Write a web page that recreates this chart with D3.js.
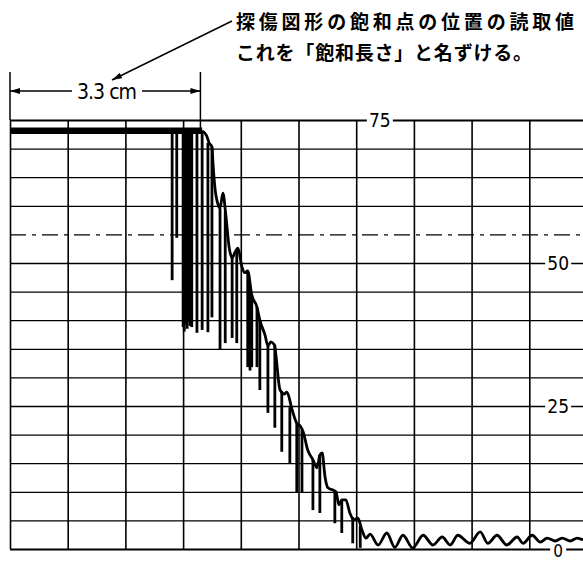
<!DOCTYPE html>
<html>
<head>
<meta charset="utf-8">
<script src="https://cdn.jsdelivr.net/npm/d3@7"></script>
<style>
  body { margin: 0; background: #fff; }
  svg { display: block; }
</style>
</head>
<body>
<div id="chart"></div>
<script>
// x in cm along the sweep, y in % of screen height
const xGrid = [0, 1, 2, 3, 4, 5, 6, 7, 8, 9, 10];
const yGrid = [0, 5, 10, 15, 20, 25, 30, 35, 40, 45, 50, 55, 60, 65, 70, 75];
const yLabels = [75, 50, 25, 0];

// saturated echo (flat top)
const satX = [0, 3.33];
const satY = [73.1, 73.1];

// falling trace after saturation, then baseline noise
const traceX = [3.33, 3.41, 3.45, 3.50, 3.52, 3.55, 3.61, 3.64, 3.69, 3.74, 3.80, 3.85, 3.90, 3.95,
  4.02, 4.07, 4.12, 4.19, 4.28, 4.33, 4.42, 4.47, 4.52, 4.58, 4.68, 4.75, 4.80, 4.89, 4.97, 5.03,
  5.08, 5.16, 5.25, 5.32, 5.37, 5.41, 5.46, 5.51, 5.60, 5.65, 5.70, 5.75, 5.82, 5.89, 5.96, 6.03,
  6.10, 6.17, 6.24, 6.38, 6.53, 6.67, 6.81, 6.98, 7.16, 7.33, 7.49, 7.63, 7.76, 7.97, 8.15, 8.28,
  8.44, 8.61, 8.79, 8.89, 9.05, 9.19, 9.31, 9.45, 9.57, 9.71, 9.83, 9.93];
const traceY = [73.1, 72.2, 71.0, 70.3, 67.1, 63.3, 60.1, 59.6, 62.2, 58.4, 52.6, 50.9, 51.9, 52.6,
  49.3, 48.3, 48.6, 44.4, 42.3, 40.0, 37.4, 35.5, 36.2, 35.7, 27.8, 27.1, 27.4, 24.3, 22.0, 21.5,
  20.5, 17.3, 15.6, 14.2, 16.4, 16.8, 12.6, 10.7, 10.3, 10.0, 7.7, 8.6, 8.6, 6.3, 5.1, 5.4,
  3.3, 1.9, 2.6, 0.7, 2.8, 0.3, 2.4, 0.2, 2.4, 0.7, 2.1, 0.7, 2.4, 1.0, 3.0, 1.0,
  2.4, 0.7, 2.1, 1.0, 2.4, 1.2, 1.9, 1.4, 1.9, 1.4, 1.9, 1.6];

// vertical flicker spikes hanging from the trace
const spikeX = [2.81, 2.89, 3.00, 3.02, 3.05, 3.07, 3.10, 3.12, 3.15, 3.24, 3.33, 3.43, 3.50,
  3.64, 3.73, 3.85, 3.93, 4.12, 4.16, 4.19, 4.28, 4.33, 4.47, 4.59, 4.71, 4.85, 4.97, 5.06,
  5.25, 5.37, 5.63, 5.75, 5.94, 6.07];
const spikeTop = [73.1, 73.1, 73.1, 73.1, 73.1, 73.1, 73.1, 73.1, 73.1, 73.1, 73.1, 71.0, 70.3,
  59.6, 59.0, 50.9, 52.2, 48.6, 46.0, 44.4, 42.3, 40.0, 35.5, 35.7, 27.6, 24.8, 22.0, 20.8,
  15.6, 16.4, 10.1, 8.6, 5.6, 4.0];
const spikeBottom = [47.0, 54.4, 38.8, 38.0, 39.2, 38.5, 39.7, 39.0, 38.8, 37.8, 38.3, 37.9, 40.5,
  34.8, 36.0, 36.9, 36.0, 31.8, 31.2, 31.8, 31.8, 27.8, 23.8, 21.2, 17.0, 15.0, 9.8, 9.8,
  6.8, 6.3, 4.5, 2.8, 1.0, 0.2];

const satLength = 3.3;
const satLabel = "3.3 cm";
const titleLines = ["探傷図形の飽和点の位置の読取値", "これを「飽和長さ」と名ずける。"];

const width = 583, height = 561;

const svg = d3.select("#chart").append("svg")
    .attr("width", width)
    .attr("height", height);

const x = d3.scaleLinear().domain([0, 10]).range([10, 587]);
const y = d3.scaleLinear().domain([0, 75]).range([549, 120]);

const defs = svg.append("defs");
defs.append("marker")
    .attr("id", "arrow")
    .attr("viewBox", "0 0 10 6")
    .attr("refX", 10).attr("refY", 3)
    .attr("markerWidth", 11).attr("markerHeight", 6)
    .attr("markerUnits", "userSpaceOnUse")
    .attr("orient", "auto")
    .append("path")
    .attr("d", "M0,0L10,3L0,6z")
    .attr("fill", "#000");

// grid
const gx = svg.append("g")
    .attr("transform", "translate(0," + y(0) + ")")
    .call(d3.axisBottom(x).tickValues(xGrid).tickSize(-(y(0) - y(75))).tickFormat(""));
gx.select(".domain").remove();
gx.selectAll("line").attr("stroke", "#000").attr("stroke-width", 1.6);

const gy = svg.append("g")
    .attr("transform", "translate(" + x(0) + ",0)")
    .call(d3.axisLeft(y).tickValues(yGrid).tickSize(-(x(10) - x(0))).tickFormat(""));
gy.select(".domain").remove();
gy.selectAll("line")
    .attr("stroke", "#000")
    .attr("stroke-width", d => (d === 0 || d === 75) ? 1.8 : 1.3)
    .attr("stroke-dasharray", d => d === 55 ? "16,6,4,6" : null);

// value labels on the grid, with the line knocked out behind them
const labelPos = {75: 6.41, 50: 9.5, 25: 9.5, 0: 9.5};
const lab = svg.append("g").selectAll("g")
    .data(yLabels)
    .join("g")
    .attr("transform", d => "translate(" + x(labelPos[d]) + "," + (y(d) + (d === 0 ? 2 : 0)) + ")");
lab.append("rect")
    .attr("x", d => d === 0 ? -8 : -13)
    .attr("width", d => d === 0 ? 16 : 26)
    .attr("y", -9).attr("height", 18)
    .attr("fill", "#fff");
lab.append("text")
    .attr("text-anchor", "middle")
    .attr("dominant-baseline", "central")
    .attr("font-family", "'Liberation Sans Narrow', 'DejaVu Sans Condensed', sans-serif")
    .attr("font-size", d => d === 0 ? 17 : 19)
    .text(d => d);

// signal
const line = d3.line().x(d => x(d[0])).y(d => y(d[1]));

svg.append("path")
    .datum(d3.zip(satX, satY))
    .attr("d", line)
    .attr("fill", "none")
    .attr("stroke", "#000")
    .attr("stroke-width", 6.5);

svg.append("g").selectAll("path")
    .data(d3.zip(spikeX, spikeTop, spikeBottom))
    .join("path")
    .attr("d", d => line([[d[0], d[1]], [d[0], d[2]]]))
    .attr("stroke", "#000")
    .attr("stroke-width", 2.8);

svg.append("path")
    .datum(d3.zip(traceX, traceY))
    .attr("d", line.curve(d3.curveMonotoneX))
    .attr("fill", "none")
    .attr("stroke", "#000")
    .attr("stroke-width", 2.8)
    .attr("stroke-linejoin", "round");

// saturation length dimension
const dim = svg.append("g").attr("stroke", "#000").attr("stroke-width", 1.5);
dim.append("line").attr("x1", x(0)).attr("x2", x(0)).attr("y1", 72).attr("y2", y(75));
dim.append("line").attr("x1", x(satLength)).attr("x2", x(satLength)).attr("y1", 72).attr("y2", y(73.1));
dim.append("line").attr("x1", 72).attr("x2", x(0)).attr("y1", 91).attr("y2", 91)
    .attr("marker-end", "url(#arrow)");
dim.append("line").attr("x1", 142).attr("x2", x(satLength)).attr("y1", 91).attr("y2", 91)
    .attr("marker-end", "url(#arrow)");
svg.append("text")
    .attr("x", 77).attr("y", 99)
    .attr("textLength", 60).attr("lengthAdjust", "spacing")
    .attr("font-family", "'DejaVu Sans Condensed', 'DejaVu Sans', sans-serif")
    .attr("font-size", 21)
    .text(satLabel);

// callout
svg.append("line")
    .attr("x1", 232).attr("y1", 21).attr("x2", 112).attr("y2", 80)
    .attr("stroke", "#000").attr("stroke-width", 1.4)
    .attr("marker-end", "url(#arrow)");

svg.append("g").selectAll("text")
    .data(titleLines)
    .join("text")
    .attr("x", 236)
    .attr("y", (d, i) => 20 + i * 31)
    .attr("dominant-baseline", "central")
    .attr("textLength", (d, i) => i === 0 ? 338 : 296)
    .attr("lengthAdjust", "spacing")
    .attr("font-family", "'Noto Sans CJK JP', sans-serif")
    .attr("font-weight", 700)
    .attr("font-size", 19)
    .text(d => d);
</script>
</body>
</html>
